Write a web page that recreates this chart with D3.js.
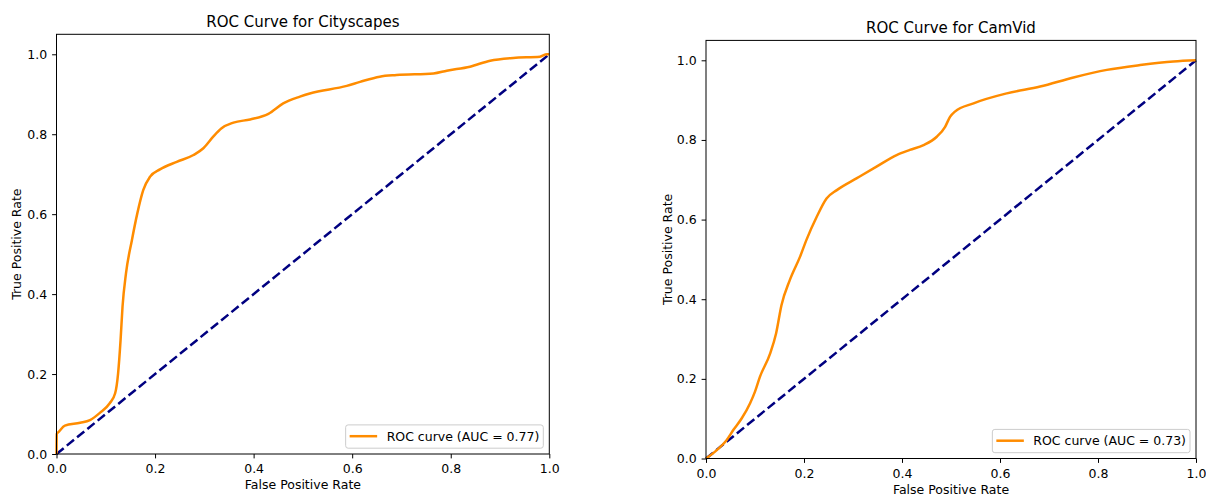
<!DOCTYPE html>
<html>
<head>
<meta charset="utf-8">
<script src="https://cdn.jsdelivr.net/npm/d3@7"></script>
<style>
  html, body { margin: 0; padding: 0; background: #fff; }
  svg { display: block; font-family: "DejaVu Sans", sans-serif; }
</style>
</head>
<body>
<svg id="chart" width="1206" height="495"></svg>
<script>
// ---- Data ----
const cityFPR = [0, 0.0005, 0.005, 0.017, 0.048, 0.068, 0.088, 0.108, 0.119, 0.125, 0.130, 0.134, 0.141, 0.153, 0.164, 0.176, 0.190, 0.210, 0.244, 0.278, 0.298, 0.318, 0.335, 0.359, 0.393, 0.430, 0.460, 0.494, 0.514, 0.589, 0.616, 0.656, 0.690, 0.765, 0.792, 0.839, 0.880, 0.927, 0.981, 0.995, 1.0];
const cityTPR = [0, 0.050, 0.056, 0.071, 0.078, 0.085, 0.103, 0.127, 0.152, 0.202, 0.285, 0.369, 0.452, 0.535, 0.602, 0.660, 0.694, 0.712, 0.731, 0.748, 0.765, 0.794, 0.815, 0.829, 0.837, 0.851, 0.877, 0.894, 0.902, 0.921, 0.931, 0.944, 0.948, 0.952, 0.959, 0.969, 0.984, 0.991, 0.994, 1.0, 1.0];

const camFPR = [0, 0.022, 0.042, 0.056, 0.073, 0.090, 0.100, 0.110, 0.131, 0.143, 0.154, 0.171, 0.192, 0.205, 0.226, 0.246, 0.267, 0.308, 0.348, 0.389, 0.416, 0.444, 0.471, 0.488, 0.498, 0.508, 0.546, 0.614, 0.682, 0.750, 0.818, 0.886, 0.954, 1.0];
const camTPR = [0, 0.021, 0.046, 0.072, 0.101, 0.139, 0.168, 0.205, 0.264, 0.314, 0.385, 0.448, 0.507, 0.549, 0.607, 0.653, 0.674, 0.704, 0.733, 0.762, 0.775, 0.787, 0.808, 0.833, 0.858, 0.871, 0.892, 0.917, 0.934, 0.957, 0.976, 0.988, 0.997, 1.0];

const diagonal = [0, 1];
const tickValues = [0, 0.2, 0.4, 0.6, 0.8, 1.0];
const tickLabels = ["0.0", "0.2", "0.4", "0.6", "0.8", "1.0"];
const titles = ["ROC Curve for Cityscapes", "ROC Curve for CamVid"];
const legendLabels = ["ROC curve (AUC = 0.77)", "ROC curve (AUC = 0.73)"];
const xLabel = "False Positive Rate";
const yLabel = "True Positive Rate";

// ---- Drawing ----
const svg = d3.select("#chart");
svg.append("rect").attr("width", 1206).attr("height", 495).attr("fill", "#fff");

const FS = 12.5;
const TITLE_FS = 15;

function panel(cfg, fpr, tpr, title, legendText) {
  const x = d3.scaleLinear().domain([0, 1]).range([cfg.left, cfg.right]);
  const y = d3.scaleLinear().domain([0, 1.05]).range([cfg.bottom, cfg.top]);
  const g = svg.append("g");

  // diagonal
  g.append("path")
    .datum(diagonal)
    .attr("d", d3.line().x(d => x(d)).y(d => y(d)))
    .attr("fill", "none")
    .attr("stroke", "#000080")
    .attr("stroke-width", 2.5)
    .attr("stroke-dasharray", "9.25,4");

  // ROC curve
  const pts = fpr.map((f, i) => [f, tpr[i]]);
  g.append("path")
    .datum(pts)
    .attr("d", d3.line().x(d => x(d[0])).y(d => y(d[1])).curve(d3.curveMonotoneX))
    .attr("fill", "none")
    .attr("stroke", "#ff8c00")
    .attr("stroke-width", 2.5)
    .attr("stroke-linejoin", "round")
    .attr("stroke-linecap", "butt");

  // axes
  const fmt = (d, i) => tickLabels[i];
  const xa = g.append("g").attr("transform", `translate(0,${cfg.bottom})`)
    .call(d3.axisBottom(x).tickValues(tickValues).tickFormat(fmt).tickSize(4.4).tickPadding(6));
  const ya = g.append("g").attr("transform", `translate(${cfg.left},0)`)
    .call(d3.axisLeft(y).tickValues(tickValues).tickFormat(fmt).tickSize(4.4).tickPadding(5));
  [xa, ya].forEach(a => {
    a.select(".domain").remove();
    a.selectAll("line").attr("stroke", "#000").attr("stroke-width", 1);
    a.selectAll("text").attr("font-size", FS).attr("fill", "#000").attr("font-family", "DejaVu Sans");
  });

  // spines
  g.append("rect")
    .attr("x", cfg.left).attr("y", cfg.top)
    .attr("width", cfg.right - cfg.left).attr("height", cfg.bottom - cfg.top)
    .attr("fill", "none").attr("stroke", "#000").attr("stroke-width", 1);

  // title
  g.append("text")
    .attr("x", (cfg.left + cfg.right) / 2).attr("y", cfg.top - 7.5)
    .attr("text-anchor", "middle").attr("font-size", TITLE_FS).attr("fill", "#000")
    .text(title);

  // axis labels
  g.append("text")
    .attr("x", (cfg.left + cfg.right) / 2).attr("y", cfg.bottom + 35)
    .attr("text-anchor", "middle").attr("font-size", FS).attr("fill", "#000")
    .text(xLabel);
  g.append("text")
    .attr("transform", `translate(${cfg.ylabelX},${(cfg.top + cfg.bottom) / 2}) rotate(-90)`)
    .attr("text-anchor", "middle").attr("font-size", FS).attr("fill", "#000")
    .text(yLabel);

  // legend
  const lg = g.append("g");
  const boxRect = lg.append("rect");
  const txt = lg.append("text").attr("font-size", FS).attr("fill", "#000").text(legendText);
  const tw = txt.node().getComputedTextLength();
  const bw = 5 + 25 + 10 + tw + 5;
  const bh = 23.3;
  const bx = cfg.right - 6 - bw;
  const by = cfg.bottom - 5.8 - bh;
  boxRect.attr("x", bx).attr("y", by).attr("width", bw).attr("height", bh)
    .attr("rx", 2.5).attr("ry", 2.5)
    .attr("fill", "#fff").attr("fill-opacity", 0.8)
    .attr("stroke", "#cccccc").attr("stroke-width", 1);
  lg.append("line")
    .attr("x1", bx + 4).attr("x2", bx + 31.5)
    .attr("y1", by + 11.3).attr("y2", by + 11.3)
    .attr("stroke", "#ff8c00").attr("stroke-width", 2.5);
  txt.attr("x", bx + 41).attr("y", by + 16);
}

panel({left: 56.5, right: 549.3, top: 34.3, bottom: 454, ylabelX: 21}, cityFPR, cityTPR, titles[0], legendLabels[0]);
panel({left: 706, right: 1196, top: 40.4, bottom: 458.5, ylabelX: 671.5}, camFPR, camTPR, titles[1], legendLabels[1]);
</script>
</body>
</html>
